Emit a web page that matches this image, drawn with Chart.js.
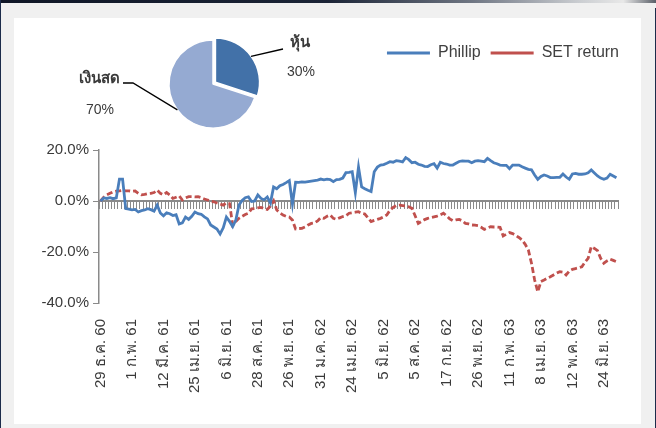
<!DOCTYPE html>
<html>
<head>
<meta charset="utf-8">
<script src="https://cdn.jsdelivr.net/npm/chart.js@4.4.0/dist/chart.umd.min.js"></script>
<style>
  html, body { margin: 0; padding: 0; }
  body { width: 656px; height: 428px; background: #f0f0f0; position: relative; overflow: hidden; }
  #topbar { position: absolute; left: 0; top: 0; width: 656px; height: 3px;
    background: linear-gradient(to right, #0f1626 0%, #1b2436 50%, #6f7683 72%, #c9ccd0 88%, #e8e8e8 95%, #5a5f68 100%); }
  #leftbar { position: absolute; left: 0; top: 0; width: 1px; height: 428px; background: #1c2b4a; }
  #rightbar { position: absolute; left: 655px; top: 8px; width: 1px; height: 420px; background: #1c2b4a; }
  #panel { position: absolute; left: 14px; top: 18px; width: 627px; height: 406px; background: #fff; }
  #panel canvas { position: absolute; left: 0; top: 0; }
</style>
</head>
<body>
<div id="topbar"></div>
<div id="leftbar"></div>
<div id="rightbar"></div>
<div id="panel">
  <canvas id="main" width="627" height="406"></canvas>
  <canvas id="pie" width="627" height="406"></canvas>
</div>
<script>
// date labels shown under the axis, one every 10 categories
var tickLabels = ['29 ธ.ค. 60', '1 ก.พ. 61', '12 มี.ค. 61', '25 เม.ย. 61', '6 มิ.ย. 61', '28 ส.ค. 61',
  '26 พ.ย. 61', '31 ม.ค. 62', '24 เม.ย. 62', '5 มิ.ย. 62', '5 ส.ค. 62', '17 ก.ย. 62',
  '26 พ.ย. 62', '11 ก.พ. 63', '8 เม.ย. 63', '12 พ.ค. 63', '24 มิ.ย. 63'];
var labelEvery = 10;

// cumulative return, %
var phillip = [
  0, 1.2, 1.0, 1.3, 0.9, 1.2, 8.6, 8.6, -3.0, -3.2,
  -3.5, -3.3, -4.3, -3.8, -3.5, -3.0, -3.4, -4.0, -1.6, -4.7,
  -5.8, -4.6, -5.0, -5.7, -5.4, -9.0, -8.6, -6.3, -7.2, -6.0,
  -4.3, -5.0, -5.2, -6.2, -7.0, -9.4, -10.2, -11.0, -12.9, -10.5,
  -6.3, -8.0, -10.0, -7.5, -1.6, 0.2, 1.3, 1.6, -0.2, 0.0,
  2.4, 1.0, 0.5, 1.6, -0.8, 5.5, 4.8, 6.0, 6.5, 7.2,
  8.0, -1.2, 7.4, 7.3, 7.5, 7.4, 7.6, 7.8, 8.0, 8.2,
  8.6, 8.3, 8.6, 8.4, 7.6, 8.4, 8.5, 9.0, 11.1, 11.2,
  11.5, 3.3, 13.3, 5.5, 4.8, 4.2, 3.7, 11.5, 13.3, 14.1,
  14.3, 14.8, 15.4, 15.2, 15.8, 15.6, 15.3, 17.0, 16.2, 15.0,
  15.2, 14.4, 14.1, 13.6, 13.5, 14.2, 14.6, 12.9, 15.2, 14.7,
  14.5, 14.1, 14.1, 14.8, 15.5, 15.7, 15.6, 15.6, 15.0, 15.6,
  15.8, 15.6, 15.4, 16.7, 15.8, 15.0, 14.6, 14.1, 14.0, 14.0,
  12.7, 14.1, 14.1, 14.1, 13.4, 12.9, 12.4, 12.2, 10.2, 8.5,
  9.6, 10.2, 9.8, 9.2, 9.2, 9.3, 9.3, 10.6, 9.4, 8.5,
  10.6, 10.8, 10.5, 10.5, 10.6, 11.1, 12.2, 11.0, 9.8, 9.0,
  8.5, 9.0, 10.5, 9.8, 9.1
];
var setReturn = [
  0, 1.5, 2.4, 3.0, 3.6, 3.9, 4.0, 4.2, 4.0, 4.0,
  3.8, 3.9, 3.0, 2.4, 2.6, 2.9, 3.0, 3.3, 4.3, 3.0,
  2.4, 3.3, 2.4, 1.0, 1.5, 2.0, 0.4, 1.2, 1.7, 1.7,
  1.6, 1.7, 1.3, 0.8, 0.4, 0.0, -0.3, -0.8, -1.2, -1.6,
  -0.7, -1.0, -9.4, -8.0, -6.8, -6.0, -5.3, -4.8, -3.1, -3.0,
  -2.7, -2.5, -3.0, -3.3, -2.0, 0.1, -3.5, -4.6, -5.5, -6.0,
  -6.3, -7.5, -11.0, -10.8, -10.7, -10.2, -9.4, -8.8, -8.6, -7.8,
  -6.5, -6.8, -6.0, -5.5, -6.8, -7.2, -6.6, -6.1, -5.8, -4.8,
  -4.6, -4.4, -4.2, -4.8, -5.1, -6.6, -8.1, -7.6, -7.2, -6.8,
  -6.2, -5.5, -3.6, -2.5, -1.8, -1.6, -1.8, -2.0, -2.3, -2.9,
  -5.8, -8.8, -8.0, -7.3, -6.8, -6.5, -6.2, -5.9, -5.4, -4.8,
  -5.8, -7.0, -7.7, -7.4, -7.2, -7.8, -8.8, -9.0, -9.4, -9.5,
  -9.7, -10.3, -11.1, -10.6, -10.1, -10.2, -10.2, -10.3, -13.7, -13.0,
  -12.4, -12.8, -13.5, -14.3, -15.3, -17.0, -19.2, -24.4, -31.0, -35.6,
  -31.6, -31.0, -30.3, -29.7, -29.0, -28.3, -27.7, -27.9, -29.0, -27.5,
  -26.8, -26.5, -26.2, -25.8, -24.0, -22.5, -17.9, -18.6, -19.5, -22.5,
  -24.4, -23.5, -22.8, -23.3, -23.8
];

// allocation pie
var pieLabels = ['หุ้น', 'เงินสด'];
var pieValues = [30, 70];

var categories = phillip.map(function (v, i) {
  return i % labelEvery === 0 ? (tickLabels[i / labelEvery] || '') : '';
});

var axisGray = '#8a8a8a';
var textColor = '#3a3a3a';
var baseFont = 'Liberation Sans, Arial, sans-serif';

new Chart(document.getElementById('main'), {
  type: 'line',
  data: {
    labels: categories,
    datasets: [{
      label: 'Phillip',
      data: phillip,
      borderColor: '#4a7ebb',
      backgroundColor: '#4a7ebb',
      borderWidth: 2.8,
      pointRadius: 0,
      tension: 0
    }, {
      label: 'SET return',
      data: setReturn,
      borderColor: '#c0504d',
      backgroundColor: '#c0504d',
      borderWidth: 2.8,
      borderDash: [6, 3],
      pointRadius: 0,
      tension: 0
    }]
  },
  options: {
    responsive: false,
    animation: false,
    devicePixelRatio: 1,
    layout: { padding: { left: 0, right: 12, top: 17, bottom: 0 } },
    plugins: {
      legend: {
        position: 'top',
        align: 'end',
        labels: {
          usePointStyle: true,
          pointStyle: 'line',
          pointStyleWidth: 43,
          padding: 10,
          color: '#404040',
          font: { family: baseFont, size: 16 }
        }
      },
      // empty block that keeps the plot below the legend and pie
      subtitle: { display: true, text: '', position: 'top', weight: 500, padding: { top: 0, bottom: 64.6 }, font: { size: 12 } },
      tooltip: { enabled: false }
    },
    scales: {
      x: {
        type: 'category',
        position: { y: 0 },
        offset: true,
        ticks: { display: false },
        border: { display: true, color: axisGray, width: 2 },
        grid: { display: true, drawOnChartArea: false, drawTicks: true, tickLength: 7, color: axisGray, lineWidth: 1, offset: true }
      },
      x2: {
        type: 'category',
        position: 'bottom',
        offset: true,
        border: { display: false },
        grid: { display: true, drawOnChartArea: false, drawTicks: true, tickLength: 16, color: 'rgba(0,0,0,0)' },
        ticks: { autoSkip: false, maxRotation: 90, minRotation: 90, padding: 0, color: textColor, font: { family: baseFont, size: 15 } },
        afterFit: function (s) { s.height = 121; }
      },
      y: {
        min: -40,
        max: 20,
        ticks: {
          stepSize: 20,
          padding: 4,
          color: textColor,
          font: { family: baseFont, size: 15 },
          callback: function (v) { return v.toFixed(1) + '%'; }
        },
        border: { display: true, color: axisGray, width: 1.5 },
        grid: { display: true, drawOnChartArea: false, drawTicks: true, tickLength: 6, color: axisGray },
        afterFit: function (s) { s.width = 85; }
      },
      yR: {
        position: 'right',
        min: 0,
        max: 1,
        ticks: { display: false },
        grid: { display: false },
        border: { display: false },
        afterFit: function (s) { s.width = 11; }
      }
    }
  }
});

// callout positions for the pie labels (canvas px)
var callouts = [
  { elbow: [269, 31], end: [269, 31], name: [286, 25], pct: [287, 54] },
  { elbow: [119, 65], end: [109, 65], name: [85, 61], pct: [86, 92] }
];

var pieCallouts = {
  id: 'pieCallouts',
  afterDraw: function (chart) {
    var ctx = chart.ctx;
    var meta = chart.getDatasetMeta(0);
    var total = pieValues.reduce(function (a, b) { return a + b; }, 0);
    ctx.save();
    meta.data.forEach(function (arc, i) {
      var c = callouts[i];
      var mid = (arc.startAngle + arc.endAngle) / 2;
      var shift = (arc.options.offset || 0) / 4;
      var sx = arc.x + Math.cos(mid) * (arc.outerRadius + shift);
      var sy = arc.y + Math.sin(mid) * (arc.outerRadius + shift);
      ctx.strokeStyle = '#000';
      ctx.lineWidth = 1.3;
      ctx.beginPath();
      ctx.moveTo(sx, sy);
      ctx.lineTo(c.elbow[0], c.elbow[1]);
      ctx.lineTo(c.end[0], c.end[1]);
      ctx.stroke();
      ctx.fillStyle = textColor;
      ctx.textAlign = 'center';
      ctx.textBaseline = 'middle';
      ctx.font = 'bold 15px ' + baseFont;
      ctx.fillText(pieLabels[i], c.name[0], c.name[1]);
      ctx.font = '14px ' + baseFont;
      ctx.fillText(Math.round(pieValues[i] / total * 100) + '%', c.pct[0], c.pct[1]);
    });
    ctx.restore();
  }
};

new Chart(document.getElementById('pie'), {
  type: 'pie',
  data: {
    labels: pieLabels,
    datasets: [{
      data: pieValues,
      backgroundColor: ['#4271a8', '#95aad2'],
      borderColor: '#ffffff',
      borderWidth: 1.5,
      offset: [12, 0]
    }]
  },
  options: {
    responsive: false,
    animation: false,
    devicePixelRatio: 1,
    radius: 44,
    layout: { padding: { left: 149, right: 378, top: 16, bottom: 290 } },
    plugins: { legend: { display: false }, tooltip: { enabled: false } }
  },
  plugins: [pieCallouts]
});
</script>
</body>
</html>
